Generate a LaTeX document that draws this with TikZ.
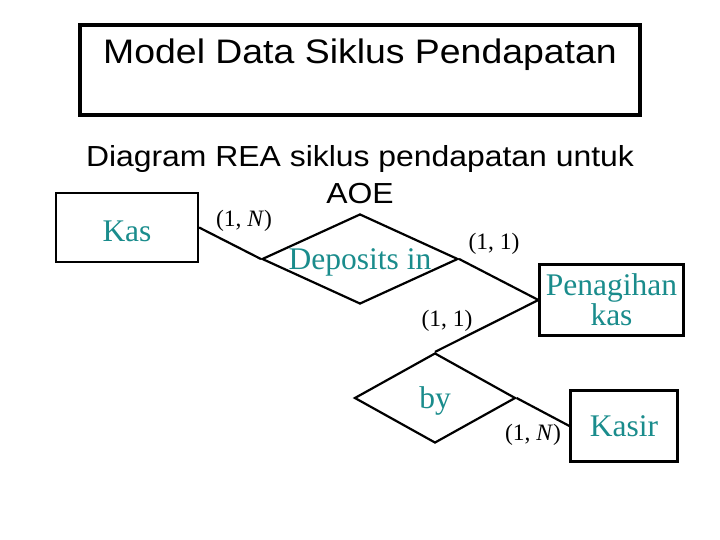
\documentclass[tikz,border=0pt]{standalone}
\usepackage{fontspec}
\usepackage{xcolor}
\usetikzlibrary{positioning,shapes.geometric}
\setmainfont{Liberation Serif}
\newfontfamily\titlefont[FakeStretch=1.1]{Liberation Sans}
\newfontfamily\subfont[FakeStretch=1.1]{Liberation Sans}
\definecolor{tealx}{HTML}{1A8C8C}
\tikzset{
  tb/.style={draw,line width=4.5pt,minimum width=560pt,minimum height=90pt,inner sep=0pt},
  ent/.style={draw,line width=2.2pt,inner sep=0pt,text=tealx,font=\fontsize{31.5}{27}\selectfont,align=center},
  rel/.style={diamond,draw,line width=2.2pt,inner sep=0pt},
  rtx/.style={text=tealx,font=\fontsize{31.5}{31.5}\selectfont,inner sep=0pt},
  card/.style={font=\fontsize{23.5}{23.5}\selectfont,inner sep=0pt},
  lnk/.style={line width=2.2pt}
}
\begin{document}
\begin{tikzpicture}[x=1pt,y=-1pt]
\useasboundingbox (0,0) rectangle (720,540);
% judul
\node[tb] (tbox) at (360,70) {};
\node[anchor=base,inner sep=0pt,font=\titlefont\fontsize{34}{34}\selectfont] (title) at (360,64) {Model Data Siklus Pendapatan};
\node[anchor=base,inner sep=0pt,font=\subfont\fontsize{29}{29}\selectfont] (sub1) at (360,167) {Diagram REA siklus pendapatan untuk};
\node[anchor=base,inner sep=0pt,font=\subfont\fontsize{29}{29}\selectfont] (sub2) at (360,204) {AOE};
% entitas
\node[ent,minimum width=142pt,minimum height=69pt] (kas) at (127,227.5) {};
\node[rtx] (kast) at (127,231) {Kas};
\node[ent,minimum width=144pt,minimum height=71pt] (pen) at (611.5,300) {Penagihan\\kas};
\node[ent,minimum width=107pt,minimum height=71pt] (ksr) at (624,426) {Kasir};
% relasi
\node[rel,minimum width=196pt,minimum height=90pt] (dep) at (360,259) {};
\node[rtx] (dept) at (360,262) {Deposits in};
\node[rel,minimum width=161pt,minimum height=90pt] (by) at (435,398) {};
\node[rtx] (byt) at (435,401) {by};
% garis
\draw[lnk] (kas.east)--(dep.west);
\draw[lnk] (dep.east)--(pen.west);
\draw[lnk] (pen.west)--(by.north);
\draw[lnk] (by.east)--(ksr.west);
% kardinalitas
\node[card] (c1) at (244,221) {(1, \textit{N})};
\node[card] (c2) at (494,244) {(1, 1)};
\node[card] (c3) at (447,321) {(1, 1)};
\node[card] (c4) at (533,435) {(1, \textit{N})};
\end{tikzpicture}
\end{document}
